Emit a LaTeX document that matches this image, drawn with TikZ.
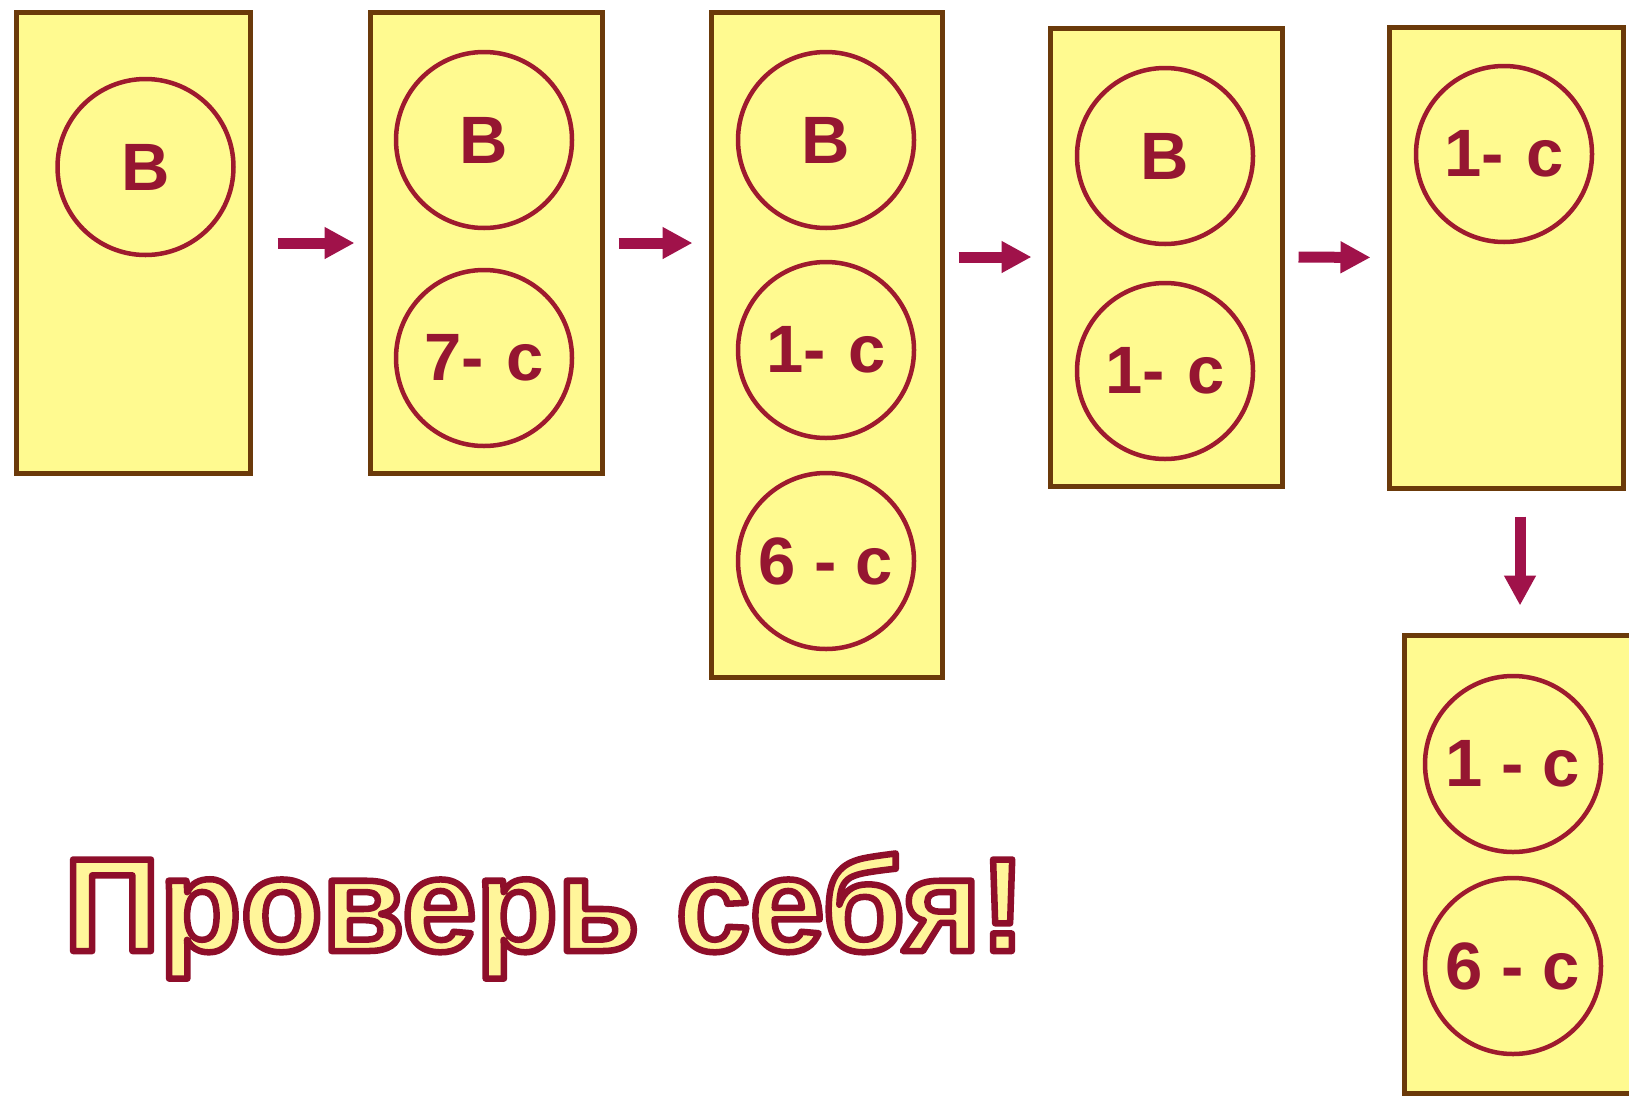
\documentclass[tikz,border=0pt]{standalone}
\usepackage{fontspec}
\setmainfont{Liberation Sans}
\usetikzlibrary{arrows.meta}
\definecolor{boxfill}{HTML}{FFFA90}
\definecolor{boxline}{HTML}{6B3A0A}
\definecolor{circline}{HTML}{9E1A2E}
\definecolor{labtext}{HTML}{951631}
\definecolor{arrcol}{HTML}{A0124A}
\definecolor{titlefill}{HTML}{FFF59A}
\newcommand{\outlinedtext}[1]{%
  \special{pdf:literal direct q}%
  \textcolor{titlefill}{\special{pdf:literal direct 0.557 0.055 0.165 RG 6.5 w 1 j 2 Tr}#1}%
  \special{pdf:literal direct 0 Tr Q}}
\tikzset{
  stage/.style={draw=boxline, fill=boxfill, line width=5pt, rectangle, inner sep=0pt},
  item/.style={draw=circline, line width=4.5pt, circle, minimum size=176pt, inner sep=0pt,
    text=labtext, font=\fontsize{67}{72}\selectfont\bfseries},
  arr/.style={draw=arrcol, line width=11pt, -{Triangle[length=30pt,width=30pt]}}
}
\begin{document}
\begin{tikzpicture}[x=1pt,y=-1pt]
\useasboundingbox[fill=white] (0,0) rectangle (1629,1098);
% boxes
\node[stage, minimum width=234pt, minimum height=461pt] (b1) at (133,243) {};
\node[stage, minimum width=232pt, minimum height=461pt] (b2) at (486,243) {};
\node[stage, minimum width=231pt, minimum height=665pt] (b3) at (826.5,345) {};
\node[stage, minimum width=232pt, minimum height=458pt] (b4) at (1166,257) {};
\node[stage, minimum width=234pt, minimum height=461pt] (b5) at (1506,257.5) {};
\node[stage, minimum width=234pt, minimum height=458pt] (b6) at (1521,864) {};
% circles
\node[item] (c11) at (145.5,167) {B};
\node[item] (c21) at (484,140) {B};
\node[item] (c22) at (484,358) {7-\,\,c};
\node[item] (c31) at (826,140) {B};
\node[item] (c32) at (826,350) {1-\,\,c};
\node[item] (c33) at (826,561) {6 - c};
\node[item] (c41) at (1165,156) {B};
\node[item] (c42) at (1165,371) {1-\,\,c};
\node[item] (c51) at (1504,154) {1-\,\,c};
\node[item] (c61) at (1513,764) {1 - c};
\node[item] (c62) at (1513,966) {6 - c};
% arrows
\draw[arr, shorten <=25pt, shorten >=13pt] (b1.east) -- (b2.west);
\draw[arr, shorten <=14pt, shorten >=16pt] (b2.east) -- (b3.west |- b2.east);
\draw[arr, shorten <=14pt, shorten >=16pt] (b3.east |- b4.west) -- (b4.west);
\draw[arr, shorten <=14pt, shorten >=16pt] (b4.east) -- (b5.west);
\draw[arr, shorten <=26pt, shorten >=27pt] ([xshift=14pt]b5.south) -- ([xshift=14pt]b5.south |- b6.north);
% title
\node[anchor=base west, inner sep=0pt, font=\fontsize{133}{150}\selectfont\bfseries] (title) at (64,951)
  {\outlinedtext{Проверь себя!}};
\end{tikzpicture}
\end{document}
